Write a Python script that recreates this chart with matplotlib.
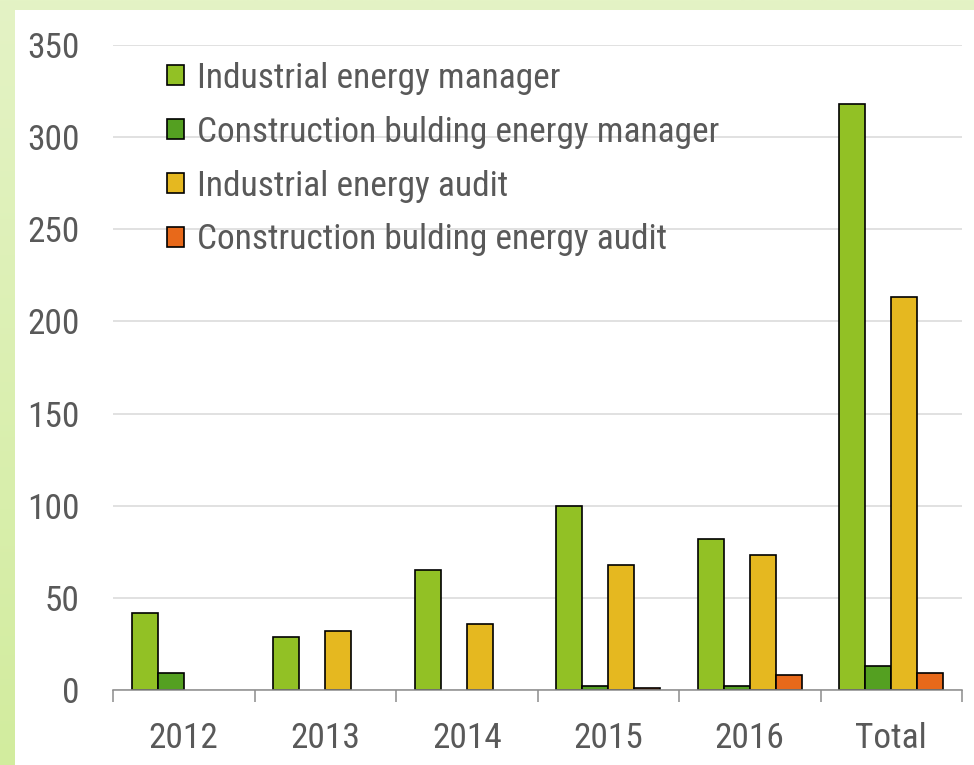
import matplotlib
matplotlib.use("Agg")
import matplotlib.pyplot as plt
import numpy as np
from matplotlib.patches import Rectangle

categories = ["2012", "2013", "2014", "2015", "2016", "Total"]
series_names = ["Industrial energy manager", "Construction bulding energy manager",
                "Industrial energy audit", "Construction bulding energy audit"]
ind_manager = [42, 29, 65, 100, 82, 318]
con_manager = [9, 0, 0, 2, 2, 13]
ind_audit = [0, 32, 36, 68, 73, 213]
con_audit = [0, 0, 0, 1, 8, 9]
colors = ["#92C125", "#54A021", "#E5B820", "#E8691A"]
yticks = [0, 50, 100, 150, 200, 250, 300, 350]

plt.rcParams['font.family'] = ['Roboto Condensed', 'DejaVu Sans']
txt = "#595959"
FS = 25.5

W, H = 974, 765
fig = plt.figure(figsize=(W / 100, H / 100), dpi=100)

# background gradient border
bg = fig.add_axes([0, 0, 1, 1], zorder=-10)
grad = np.linspace(0, 1, 256)[:, None, None]
top = np.array([228, 243, 197]) / 255
bot = np.array([210, 236, 158]) / 255
img = top + (bot - top) * grad
img = np.repeat(img, 2, axis=1)
bg.imshow(img, aspect='auto', extent=[0, 1, 0, 1], origin='upper')
bg.set_axis_off()
bg.add_patch(Rectangle((15 / W, 0), 1 - 15 / W, (H - 10) / H, transform=bg.transAxes,
                       facecolor="white", edgecolor="none"))

ax = fig.add_axes([113 / W, 1 - 690 / H, (962 - 113) / W, (690 - 45) / H])
ax.set_facecolor("none")

x = np.arange(len(categories))
bw = 0.184
data = [ind_manager, con_manager, ind_audit, con_audit]
for i, (vals, c, name) in enumerate(zip(data, colors, series_names)):
    v = np.array(vals, dtype=float)
    v = np.where(v == 0, np.nan, v)
    ax.bar(x + (i - 1.5) * bw, v, width=bw, color=c, edgecolor="black",
           linewidth=1.2, label=name, zorder=3)

ax.set_xlim(-0.5, len(categories) - 0.5)
ax.set_ylim(0, 350)
ax.set_yticks(yticks)
ax.set_yticklabels([str(v) for v in yticks])
ax.set_xticks(x)
ax.set_xticklabels(categories)
ax.set_xticks(np.arange(-0.5, len(categories)), minor=True)

ax.tick_params(axis='y', length=0, pad=24, labelsize=FS, labelcolor=txt)
ax.tick_params(axis='x', which='major', length=0, pad=23, labelsize=FS, labelcolor=txt)
ax.tick_params(axis='x', which='minor', length=8.6, width=1.1, color="#8C8C8C")

ax.grid(axis='y', color="#D9D9D9", linewidth=1.1, zorder=0)
ax.set_axisbelow(True)
for s in ["top", "right", "left"]:
    ax.spines[s].set_visible(False)
ax.spines["bottom"].set_color("#8C8C8C")
ax.spines["bottom"].set_linewidth(1.1)
ax.spines["bottom"].set_zorder(4)

leg = ax.legend(loc="upper left", bbox_to_anchor=(0.064, 0.974), frameon=False,
                fontsize=FS, labelcolor=txt, handlelength=0.48, handleheight=0.48,
                handletextpad=0.37, labelspacing=0.59, borderpad=0, borderaxespad=0)
leg.set_zorder(5)

fig.savefig("out.png", dpi=100)
